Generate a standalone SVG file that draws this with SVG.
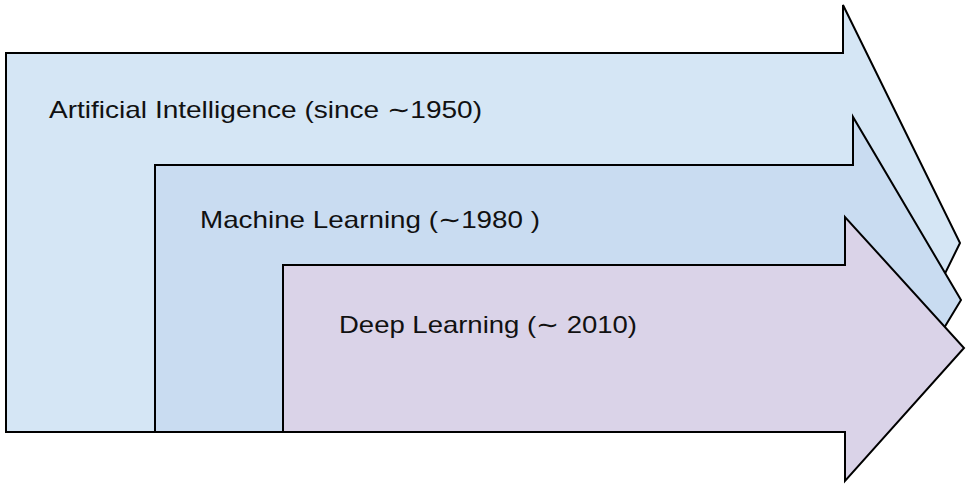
<svg xmlns="http://www.w3.org/2000/svg" width="969" height="488" viewBox="0 0 969 488">
<style>
.arrow{stroke:#000;stroke-width:2;stroke-linejoin:miter}
.lbl{font-family:"Liberation Sans","Open Sans",Arial,sans-serif;font-size:24px;fill:#111}
</style>
<rect width="969" height="488" fill="#fff"/>
<g id="ai">
<polygon class="arrow" fill="#d5e6f5" points="6,53 843,53 843,5 960,243 867,432 6,432"/>
<text class="lbl" x="49" y="118" textLength="433" lengthAdjust="spacingAndGlyphs">Artificial Intelligence (since ∼1950)</text>
</g>
<g id="ml">
<polygon class="arrow" fill="#c9dcf1" points="155,165 853,165 853,117 961,300 881,432 155,432"/>
<text class="lbl" x="200" y="228" textLength="340" lengthAdjust="spacingAndGlyphs">Machine Learning (∼1980 )</text>
</g>
<g id="dl">
<polygon class="arrow" fill="#dad3e8" points="283,265 845,265 845,217 964,348 845,481 845,432 283,432"/>
<text class="lbl" x="339" y="333" textLength="298" lengthAdjust="spacingAndGlyphs">Deep Learning (∼ 2010)</text>
</g>
<g id="connectors"></g>
</svg>
